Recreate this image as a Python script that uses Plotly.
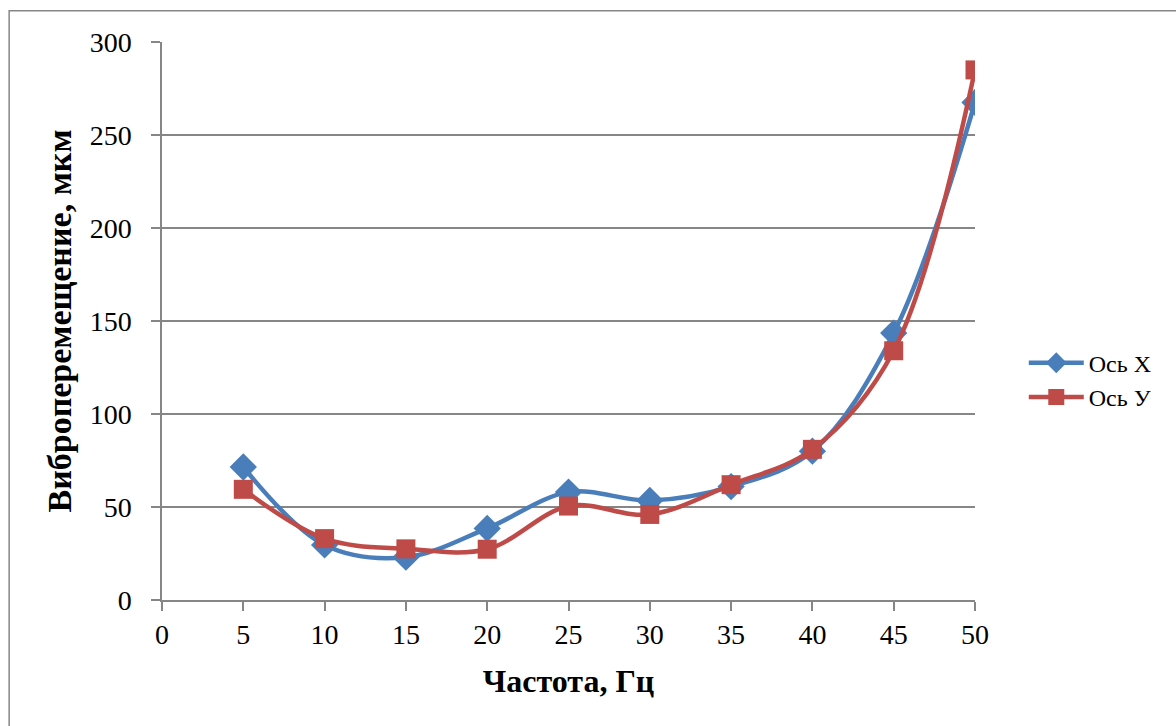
import plotly.graph_objects as go

freq = [5, 10, 15, 20, 25, 30, 35, 40, 45, 50]
axis_x = [71.5, 29.6, 23, 38.5, 58, 53.5, 61, 80, 143.5, 267.5]
axis_y = [59.5, 33, 27.5, 27.3, 50.5, 46, 62, 81, 134, 285]
x_ticks = [0, 5, 10, 15, 20, 25, 30, 35, 40, 45, 50]
y_ticks = [0, 50, 100, 150, 200, 250, 300]

FONT = "Liberation Serif"
GRID = "#868686"

fig = go.Figure()
fig.add_trace(go.Scatter(
    x=freq, y=axis_x, name="Ось X", mode="lines+markers",
    line=dict(color="#4A7EBB", width=4.5, shape="spline", smoothing=1.0),
    marker=dict(symbol="diamond", size=21, color="#4A7EBB"),
))
fig.add_trace(go.Scatter(
    x=freq, y=axis_y, name="Ось У", mode="lines+markers",
    line=dict(color="#BE4B48", width=4.5, shape="spline", smoothing=1.0),
    marker=dict(symbol="square", size=19, color="#BE4B48"),
))

fig.update_layout(
    width=1176, height=726,
    margin=dict(l=162, r=201, t=42, b=126),
    paper_bgcolor="white", plot_bgcolor="white",
    font=dict(family=FONT, color="black", size=28),
    showlegend=True,
    legend=dict(
        x=1.06, xanchor="left", y=0.394, yanchor="middle",
        font=dict(family=FONT, size=24, color="black"),
        bgcolor="rgba(0,0,0,0)", itemwidth=55, tracegroupgap=0,
    ),
    shapes=[dict(
        type="rect", xref="paper", yref="paper",
        x0=-0.188, x1=1.4, y0=-0.4, y1=1.056,
        line=dict(color=GRID, width=1.5), fillcolor="rgba(0,0,0,0)",
        layer="below",
    )],
)

fig.update_xaxes(
    range=[0, 50], tickvals=x_ticks, ticktext=[str(v) for v in x_ticks],
    showgrid=False, zeroline=False,
    showline=True, linecolor=GRID, linewidth=1.5,
    ticks="outside", ticklen=9, tickwidth=1.5, tickcolor=GRID,
    tickfont=dict(family=FONT, size=28, color="black"),
    title=dict(text="<b>Частота, Гц</b>", font=dict(family=FONT, size=32, color="black"), standoff=20),
)
fig.update_yaxes(
    range=[0, 300], tickvals=y_ticks, ticktext=[str(v) for v in y_ticks],
    showgrid=True, gridcolor=GRID, gridwidth=1.5, zeroline=False,
    showline=True, linecolor=GRID, linewidth=1.5,
    ticks="outside", ticklen=9, tickwidth=1.5, tickcolor=GRID,
    tickfont=dict(family=FONT, size=28, color="black"),
    ticklabelstandoff=14,
    title=dict(text="<b>Виброперемещение, мкм</b>", font=dict(family=FONT, size=34, color="black"), standoff=8),
)

fig.write_html("out.html")
